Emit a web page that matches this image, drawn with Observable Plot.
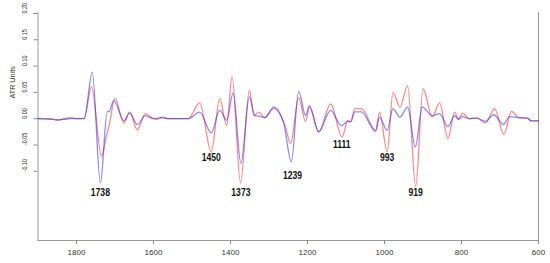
<!DOCTYPE html>
<html><head><meta charset="utf-8">
<script src="https://cdn.jsdelivr.net/npm/d3@7"></script>
<script src="https://cdn.jsdelivr.net/npm/@observablehq/plot@0.6"></script>
<style>body{margin:0;background:#fff}</style>
</head><body><div id="chart"></div>
<script>
const redWn = [1900,1870,1848,1832,1816,1798,1780,1761,1735,1723,1714,1700,1677,1662,1642,1621,1600,1590,1577,1565,1510,1480,1450,1428,1410,1396,1374,1351,1339,1327,1311,1288,1257,1244,1223,1205,1195,1171,1140,1110,1095,1088,1077,1060,1023,1013,993,978,960,940,919,900,876,857,835,818,808,797,780,760,738,714,690,670,652,628,620,600];
const redVal = [0,0,-0.003,0,0.002,0,0.001,0.061,-0.072,-0.035,-0.008,0.039,-0.008,0.0125,-0.021,0.0095,0,-0.001,0.003,0,0,0.030,-0.063,0.038,-0.013,0.080,-0.122,0.055,0.006,0.0125,0.002,0.019,-0.016,-0.047,0.040,-0.005,0.022,-0.025,0.028,-0.035,-0.003,-0.006,0.019,0.019,-0.022,0.0125,-0.063,0.050,0.022,0.063,-0.129,0.057,0.003,0.030,-0.038,0.0125,-0.001,0.0106,0,0.001,-0.008,0.019,-0.030,0.014,0.002,0.001,-0.004,-0.004];
const blueWn = [1900,1870,1848,1830,1816,1780,1759,1738,1720,1716,1703,1677,1662,1642,1621,1600,1577,1560,1510,1480,1450,1428,1410,1393,1373,1351,1337,1320,1311,1288,1262,1242,1223,1205,1195,1171,1140,1112,1095,1088,1077,1060,1023,1013,993,978,960,940,920,902,876,857,835,818,808,797,780,760,738,716,691,675,652,628,620,600];
const blueVal = [0,-0.001,-0.002,-0.001,0,0,0.0885,-0.122,0.014,0.013,0.035,-0.004,0.011,-0.011,0.006,0,0.002,0,0,0.0125,-0.027,0.016,-0.003,0.049,-0.085,0.042,0.006,0.004,0.002,0.022,-0.008,-0.082,0.052,0.006,0.025,-0.025,0.016,-0.013,-0.005,-0.006,0.013,0.013,-0.024,0.003,-0.022,0.019,0.003,0.022,-0.054,0.022,0.006,0.0095,-0.015,0.006,-0.001,0.004,0,0.001,-0.005,0.0075,-0.011,0.004,0.002,0.001,-0.004,-0.004];
const peakLabels = [1738,1450,1373,1239,1111,993,919];
const peakLabelY = [-0.141,-0.075,-0.141,-0.108,-0.049,-0.075,-0.141];
const xTicks = [1800,1600,1400,1200,1000,800,600];
const yTicks = [-0.10,-0.05,0,0.05,0.10,0.15,0.20];
const yTickLabels = ["-0.10","-0.05","0.00","0.05","0.10","0.15","0.20"];
const yTitle = "ATR Units";

const red = redWn.map((w,i)=>({wn:w, v:redVal[i]}));
const blue = blueWn.map((w,i)=>({wn:w, v:blueVal[i]}));
const labels = peakLabels.map((p,i)=>({wn:p, v:peakLabelY[i], t:String(p)}));

const chart = Plot.plot({
  width:550, height:263,
  marginLeft:37.5, marginRight:12, marginTop:12, marginBottom:23,
  style:{fontFamily:"'Liberation Sans', Arial, sans-serif", background:"#fff"},
  x:{domain:[1900,600]},
  y:{domain:[-0.2315,0.2019]},
  marks:[
    Plot.frame({anchor:"left", stroke:"#999"}),
    Plot.frame({anchor:"bottom", stroke:"#999"}),
    Plot.frame({anchor:"right", stroke:"#999"}),
    Plot.axisX({ticks:xTicks, tickSize:4, tickPadding:5, fontSize:8, stroke:"#888", fill:"#333", label:null, tickFormat:d=>String(d)}),
    Plot.axisY({ticks:yTicks, tickSize:4, tickFormat:()=>"", stroke:"#888", label:null}),
    Plot.text(yTicks, {y:d=>d, text:(d,i)=>yTickLabels[i], frameAnchor:"left", dx:-14, rotate:-90, fontSize:8, fill:"#333", ariaLabel:()=>"ytick"}),
    Plot.text([yTitle], {frameAnchor:"top-left", dx:-28.5, dy:86, rotate:-90, fontSize:8, fill:"#333", ariaLabel:()=>"ytitle"}),
    Plot.line(red, {x:"wn", y:"v", stroke:"#ff2a2a", strokeOpacity:0.55, strokeWidth:1.3, curve:"monotone-x"}),
    Plot.line(blue, {x:"wn", y:"v", stroke:"#2a2aff", strokeOpacity:0.55, strokeWidth:1.3, curve:"monotone-x"}),
    Plot.text(labels, {x:"wn", y:"v", text:"t", fontWeight:"bold", fontSize:10, fill:"#111", ariaLabel:()=>"peak"})
  ]
});
document.getElementById("chart").appendChild(chart);
function squeeze(set, f) {
  chart.querySelectorAll("text").forEach(el => {
    if (!set.has(el.textContent)) return;
    const w = el.getComputedTextLength();
    if (w > 0) { el.setAttribute("textLength", (w*f).toFixed(2)); el.setAttribute("lengthAdjust", "spacingAndGlyphs"); }
  });
}
squeeze(new Set(yTickLabels), 0.68);
squeeze(new Set([yTitle]), 0.9);
squeeze(new Set(peakLabels.map(String)), 0.86);
</script>
</body></html>
